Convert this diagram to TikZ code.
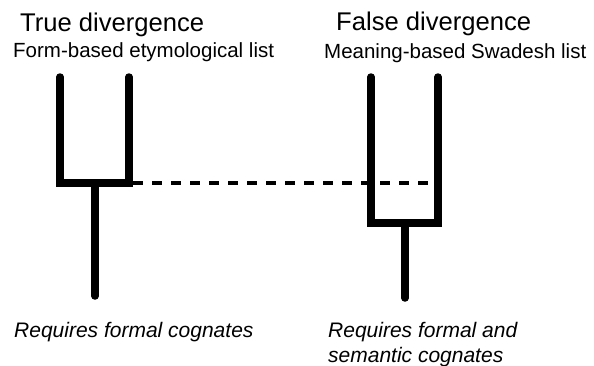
\documentclass[tikz,border=0pt]{standalone}
\usepackage{fontspec}
\setmainfont{Liberation Sans}

\begin{document}
\begin{tikzpicture}[x=1pt, y=-1pt,
  branch/.style={line width=7.5pt, line cap=round},
  level/.style={line width=3.5pt, dash pattern=on 10pt off 9pt},
  title/.style={anchor=base west, inner sep=0pt, font=\fontsize{25.6}{30}\selectfont},
  listname/.style={anchor=base west, inner sep=0pt, font=\fontsize{20.5}{24}\selectfont},
  note/.style={anchor=base west, inner sep=0pt, align=left, font=\fontsize{21}{25}\selectfont\itshape}]
  \useasboundingbox (0,0) rectangle (594,365);

  % split points
  \coordinate (tJ) at (95,183);
  \coordinate (tR) at (129,183);
  \coordinate (fJ) at (405,223);
  \coordinate (fR) at (438,183);

  % same depth
  \draw[level, shorten <=4pt, shorten >=4pt] (tR) -- (fR);

  % true divergence
  \draw[branch] (60,77) |- (tJ) -| (129,77);
  \draw[branch] (tJ) -- (95,296);

  % false divergence
  \draw[branch] (371,77) |- (fJ) -| (438,77);
  \draw[branch] (fJ) -- (405,298);

  % labels
  \node[title] (ttitle) at (20,31) {True divergence};
  \node[listname] (tlist) at (13,57) {Form-based etymological list};
  \node[title] (ftitle) at (336,30) {False divergence};
  \node[listname] (flist) at (324,58) {Meaning-based Swadesh list};
  \node[note] (tnote) at (14,337) {Requires formal cognates};
  \node[note] (fnote) at (328,362) {Requires formal and\\semantic cognates};
\end{tikzpicture}
\end{document}
